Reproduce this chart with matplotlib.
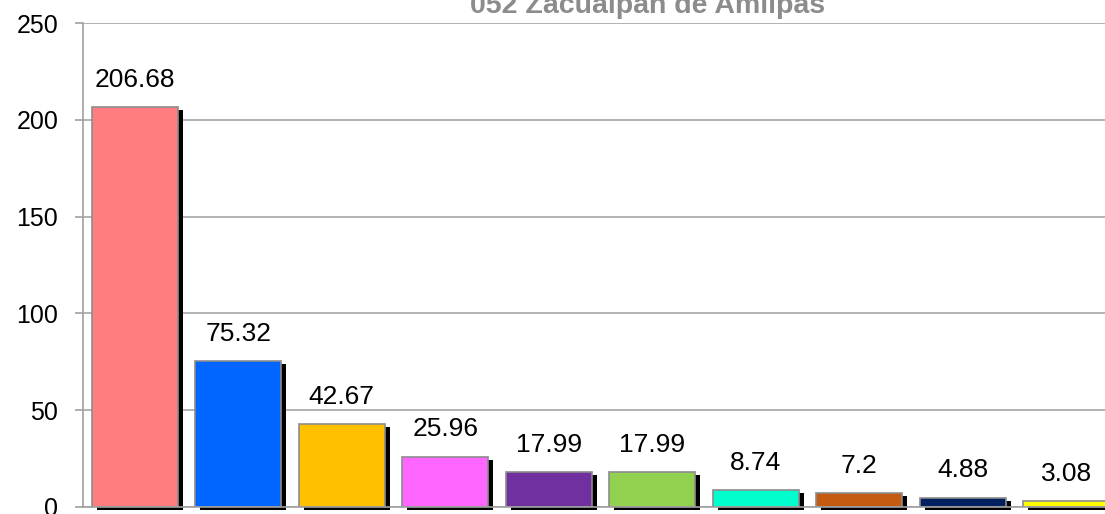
import matplotlib
matplotlib.use("Agg")
import matplotlib.pyplot as plt
import matplotlib.transforms as mtransforms

plt.rcParams['font.family'] = ['Liberation Sans', 'DejaVu Sans']

title = "052 Zacualpan de Amilpas"
values = [206.68, 75.32, 42.67, 25.96, 17.99, 17.99, 8.74, 7.2, 4.88, 3.08]
labels = ["206.68", "75.32", "42.67", "25.96", "17.99", "17.99", "8.74", "7.2", "4.88", "3.08"]
colors = ['#FF7C80', '#0066FF', '#FFC000', '#FF66FF', '#7030A0',
          '#92D050', '#00FFCC', '#C55A11', '#002060', '#FFFF00']
yticks = [0, 50, 100, 150, 200, 250]

fig = plt.figure(figsize=(11.05, 5.14), dpi=100)
ax = fig.add_axes([83/1105, 7/514, 1035/1105, 484/514])

x = list(range(len(values)))
w = 0.831

# drop shadow behind each bar, shifted right and down a few pixels
shift = mtransforms.ScaledTranslation(5/100, -3/100, fig.dpi_scale_trans)
shadows = ax.bar(x, values, w, color='black', zorder=2)
for p in shadows:
    p.set_transform(ax.transData + shift)
    p.set_clip_on(False)

bars = ax.bar(x, values, w, color=colors, edgecolor='#8c8c8c', linewidth=1.2, zorder=3)

for xi, v, lab in zip(x, values, labels):
    ax.annotate(lab, (xi, v), xytext=(0, 11), textcoords='offset points',
                ha='center', va='bottom', fontsize=19, color='black')

ax.set_xlim(-0.5, len(values) - 0.5)
ax.set_ylim(0, 250)
ax.set_yticks(yticks)
ax.set_xticks([])
ax.yaxis.grid(True, color='#a6a6a6', linewidth=1.2, zorder=0)
ax.set_axisbelow(True)
for s in ['top', 'right']:
    ax.spines[s].set_visible(False)
ax.spines['left'].set_color('#a0a0a0')
ax.spines['left'].set_linewidth(1.2)
ax.spines['bottom'].set_color('#a0a0a0')
ax.spines['bottom'].set_linewidth(1.2)
ax.spines['bottom'].set_zorder(4)
ax.tick_params(axis='y', length=5.8, width=1.2, color='#a0a0a0',
               labelsize=18, labelcolor='black', pad=12)

fig.text(648/1105, 1 - 13/514, title, ha='center', va='baseline',
         fontsize=20.5, fontweight='bold', color='#8c8c8c')

fig.savefig("out.png", dpi=100)
